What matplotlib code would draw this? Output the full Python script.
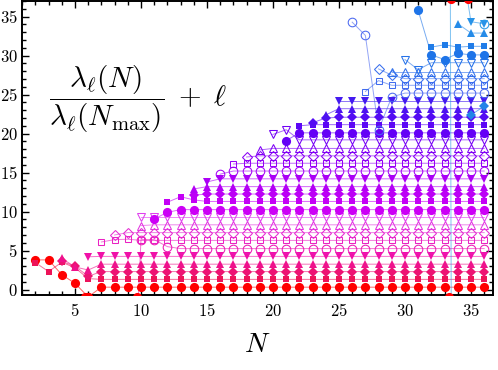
import numpy as np
import matplotlib
matplotlib.use("Agg")
import matplotlib.pyplot as plt
from matplotlib.colors import LinearSegmentedColormap
from matplotlib.ticker import MultipleLocator, FuncFormatter

plt.rcParams['mathtext.fontset'] = 'cm'
plt.rcParams['font.family'] = ['DejaVu Serif']

N_MAX = 36

# values of lambda_l(N)/lambda_l(Nmax) + l ; every series ends at N = 36
l0 = [3.8, 3.8, 1.9, 0.8, -0.95, 0.3, 0.3, 0.3, 0.3, 0.3, 0.3, 0.3, 0.3, 0.3, 0.3, 0.3, 0.3, 0.3, 0.3, 0.3,
      0.3, 0.3, 0.3, 0.3, 0.3, 0.3, 0.3, 0.3, 0.3, 0.3, 0.3, 0.3, 0.3, 0.3, 0.3]
l1 = [3.45, 2.3, 3.5, 2.8, 1.4, 1.3, 1.3, 1.3, 1.3, 1.3, 1.3, 1.3, 1.3, 1.3, 1.3, 1.3, 1.3, 1.3, 1.3, 1.3,
      1.3, 1.3, 1.3, 1.3, 1.3, 1.3, 1.3, 1.3, 1.3, 1.3, 1.3, 1.3, 1.3, 1.3, 1.3]
l2 = [3.6, 3.0, 1.7, 2.3, 2.3, 2.3, 2.3, 2.3, 2.3, 2.3, 2.3, 2.3, 2.3, 2.3, 2.3, 2.3, 2.3, 2.3, 2.3, 2.3,
      2.3, 2.3, 2.3, 2.3, 2.3, 2.3, 2.3, 2.3, 2.3, 2.3, 2.3, 2.3, 2.3]
l3 = [4.0, 2.9, 2.5, 3.25, 3.25, 3.25, 3.25, 3.25, 3.25, 3.25, 3.25, 3.25, 3.25, 3.25, 3.25, 3.25, 3.25,
      3.25, 3.25, 3.25, 3.25, 3.25, 3.25, 3.25, 3.25, 3.25, 3.25, 3.25, 3.25, 3.25, 3.25, 3.25, 3.25]
l4 = [4.2, 4.25, 4.25, 4.25, 4.25, 4.25, 4.25, 4.25, 4.25, 4.25, 4.25, 4.25, 4.25, 4.25, 4.25, 4.25, 4.25,
      4.25, 4.25, 4.25, 4.25, 4.25, 4.25, 4.25, 4.25, 4.25, 4.25, 4.25, 4.25, 4.25, 4.25]
l5 = [-30.0, 6.4, 6.4, 5.5, 5.25, 5.25, 5.25, 5.25, 5.25, 5.25, 5.25, 5.25, 5.25, 5.25, 5.25, 5.25, 5.25,
      5.25, 5.25, 5.25, 5.25, 5.25, 5.25, 5.25, 5.25, 5.25, 5.25, 5.25]
l6 = [6.1, 6.4, 6.45, 6.3, 6.3, 6.3, 6.3, 6.3, 6.3, 6.3, 6.3, 6.3, 6.3, 6.3, 6.3, 6.3, 6.3, 6.3, 6.3, 6.3,
      6.3, 6.3, 6.3, 6.3, 6.3, 6.3, 6.3, 6.3, 6.3, 6.3]
l7 = [7.0, 7.3, 7.3, 7.3, 7.3, 7.3, 7.3, 7.3, 7.3, 7.3, 7.3, 7.3, 7.3, 7.3, 7.3, 7.3, 7.3, 7.3, 7.3, 7.3,
      7.3, 7.3, 7.3, 7.3, 7.3, 7.3, 7.3, 7.3, 7.3]
l8 = [8.2, 8.3, 8.3, 8.3, 8.3, 8.3, 8.3, 8.3, 8.3, 8.3, 8.3, 8.3, 8.3, 8.3, 8.3, 8.3, 8.3, 8.3, 8.3, 8.3,
      8.3, 8.3, 8.3, 8.3, 8.3, 8.3, 8.3]
l9 = [9.3, 9.3, 9.3, 9.3, 9.3, 9.3, 9.3, 9.3, 9.3, 9.3, 9.3, 9.3, 9.3, 9.3, 9.3, 9.3, 9.3, 9.3, 9.3, 9.3,
      9.3, 9.3, 9.3, 9.3, 9.3, 9.3, 9.3]
l10 = [9.05, 9.9, 10.25, 10.25, 10.25, 10.25, 10.25, 10.25, 10.25, 10.25, 10.25, 10.25, 10.25, 10.25,
       10.25, 10.25, 10.25, 10.25, 10.25, 10.25, 10.25, 10.25, 10.25, 10.25, 10.25, 10.25]
l11 = [11.2, 11.9, 11.5, 11.3, 11.3, 11.3, 11.3, 11.3, 11.3, 11.3, 11.3, 11.3, 11.3, 11.3, 11.3, 11.3,
       11.3, 11.3, 11.3, 11.3, 11.3, 11.3, 11.3, 11.3, 11.3]
l12 = [12.1, 12.25, 12.25, 12.25, 12.25, 12.25, 12.25, 12.25, 12.25, 12.25, 12.25, 12.25, 12.25, 12.25,
       12.25, 12.25, 12.25, 12.25, 12.25, 12.25, 12.25, 12.25, 12.25]
l13 = [12.9, 13.2, 13.2, 13.2, 13.2, 13.2, 13.2, 13.2, 13.2, 13.2, 13.2, 13.2, 13.2, 13.2, 13.2, 13.2,
       13.2, 13.2, 13.2, 13.2, 13.2, 13.2, 13.2]
l14 = [13.8, 14.2, 14.2, 14.2, 14.2, 14.2, 14.2, 14.2, 14.2, 14.2, 14.2, 14.2, 14.2, 14.2, 14.2, 14.2,
       14.2, 14.2, 14.2, 14.2, 14.2, 14.2]
l15 = [14.8, 15.2, 15.2, 15.2, 15.2, 15.2, 15.2, 15.2, 15.2, 15.2, 15.2, 15.2, 15.2, 15.2, 15.2, 15.2,
       15.2, 15.2, 15.2, 15.2, 15.2]
l16 = [16.1, 16.2, 16.2, 16.2, 16.2, 16.2, 16.2, 16.2, 16.2, 16.2, 16.2, 16.2, 16.2, 16.2, 16.2, 16.2,
       16.2, 16.2, 16.2, 16.2]
l17 = [17.0, 17.15, 17.15, 17.15, 17.15, 17.15, 17.15, 17.15, 17.15, 17.15, 17.15, 17.15, 17.15, 17.15,
       17.15, 17.15, 17.15, 17.15, 17.15]
l18 = [17.9, 18.1, 18.1, 18.1, 18.1, 18.1, 18.1, 18.1, 18.1, 18.1, 18.1, 18.1, 18.1, 18.1, 18.1, 18.1,
       18.1, 18.1]
l19 = [19.9, 20.5, 19.2, 19.2, 19.2, 19.2, 19.2, 19.2, 19.2, 19.2, 19.2, 19.2, 19.2, 19.2, 19.2, 19.2, 19.2]
l20 = [19.1, 20.1, 20.1, 20.1, 20.1, 20.1, 20.1, 20.1, 20.1, 20.1, 20.1, 20.1, 20.1, 20.1, 20.1, 20.1]
l21 = [21.0, 21.15, 21.15, 21.15, 21.15, 21.15, 21.15, 21.15, 21.15, 21.15, 21.15, 21.15, 21.15, 21.15, 21.15]
l22 = [21.4, 22.0, 22.1, 22.1, 22.1, 22.1, 22.1, 22.1, 22.1, 22.1, 22.1, 22.1, 22.1, 22.1]
l23 = [22.4, 23.2, 23.2, 23.2, 23.2, 23.2, 23.2, 23.2, 23.2, 23.2, 23.2, 23.2, 23.2]
l24 = [24.2, 24.2, 24.2, 24.2, 24.2, 24.2, 24.2, 24.2, 24.2, 24.2, 24.2, 24.2]
l25 = [34.3, 32.6, 20.5, 24.7, 25.2, 25.2, 25.2, 25.2, 25.2, 25.2, 25.2]
l26 = [25.4, 26.8, 26.2, 26.2, 26.2, 26.2, 26.2, 26.2, 26.2, 26.2]
l27 = [28.3, 27.5, 27.05, 27.05, 27.05, 27.05, 27.05, 27.05, 27.05]
l28 = [27.9, 27.9, 27.9, 27.9, 27.9, 27.9, 27.9, 27.9]
l29 = [29.5, 28.2, 29.1, 29.1, 29.1, 29.1, 29.1]
l30 = [35.8, 30.1, 29.5, 30.3, 30.1, 30.1]
l31 = [31.1, 31.4, 31.1, 31.2, 31.2]
l32 = [22.4, 23.5]
l33 = [34.1, 32.9, 32.9]
l34 = [45.0, 34.35, 34.1]
l35 = [300.0, -300.0, np.nan, 34.0]

series = [l0, l1, l2, l3, l4, l5, l6, l7, l8, l9, l10, l11, l12, l13, l14, l15, l16, l17,
          l18, l19, l20, l21, l22, l23, l24, l25, l26, l27, l28, l29, l30, l31, l32, l33, l34, l35]

# red marks where lines leave the plot range
clip_x = [5.75, 5.95, 9.72, 33.35, 33.5, 34.75]
clip_y = [-0.95, -0.95, -0.95, -0.95, 37.25, 37.25]

# style
cmap = LinearSegmentedColormap.from_list('lc', [
    (0.0, '#ff0000'), (1/35, '#ec145c'), (4/35, '#f010a8'), (9/35, '#e040f0'),
    (10/35, '#cc00f6'), (15/35, '#a400f6'), (20/35, '#6400f6'), (24/35, '#4418f0'),
    (25/35, '#4a6af0'), (30/35, '#1e74e8'), (1.0, '#2a9ae8')])
markers = ['o', 's', 'D', '^', 'v', 'o', 's', 'D', '^', 'v']
msizes = [6.6, 4.6, 4.6, 5.2, 5.2, 6.2, 4.8, 4.8, 5.4, 5.4]

fig = plt.figure(figsize=(4.98, 3.70), dpi=100)
ax = fig.add_axes([0.044, 0.203, 0.946, 0.794])

for l, vals in enumerate(series):
    n0 = N_MAX - len(vals) + 1
    Ns = np.arange(n0, N_MAX + 1)
    col = cmap(l / 35)
    k = l % 10
    filled = k < 5
    ax.plot(Ns, vals, '-', color=col, lw=0.7, alpha=0.6, zorder=2)
    ax.plot(Ns, vals, linestyle='none', marker=markers[k], ms=msizes[k],
            mfc=col if filled else 'none', mec=col, mew=0.0 if filled else 0.75, zorder=3)

ax.plot(clip_x, clip_y, linestyle='none', marker='o', ms=6.6, mfc='#ff0000', mec='#ff0000',
        mew=0, zorder=4)

ax.set_xlim(0.98, 36.67)
ax.set_ylim(-0.69, 37.0)
ax.xaxis.set_major_locator(MultipleLocator(5))
ax.xaxis.set_minor_locator(MultipleLocator(1))
ax.yaxis.set_major_locator(MultipleLocator(5))
ax.yaxis.set_minor_locator(MultipleLocator(1))
fmt = FuncFormatter(lambda v, p: r'$%d$' % int(round(v)))
ax.xaxis.set_major_formatter(fmt)
ax.yaxis.set_major_formatter(fmt)
ax.tick_params(which='both', direction='in', top=True, right=True, labelsize=12, width=1.0)
ax.tick_params(axis='y', which='both', pad=3)
ax.tick_params(axis='x', which='both', pad=6)
ax.tick_params(which='major', length=5)
ax.tick_params(which='minor', length=3)
for sp in ax.spines.values():
    sp.set_linewidth(1.4)

ax.set_xlabel(r'$N$', fontsize=20, labelpad=8)
ax.text(0.245, 0.665, r'$\dfrac{\lambda_\ell(N)}{\lambda_\ell(N_{\max})}\;+\;\ell$', transform=ax.transAxes,
        ha='center', va='center', fontsize=21)

fig.savefig('out.png', dpi=100)
